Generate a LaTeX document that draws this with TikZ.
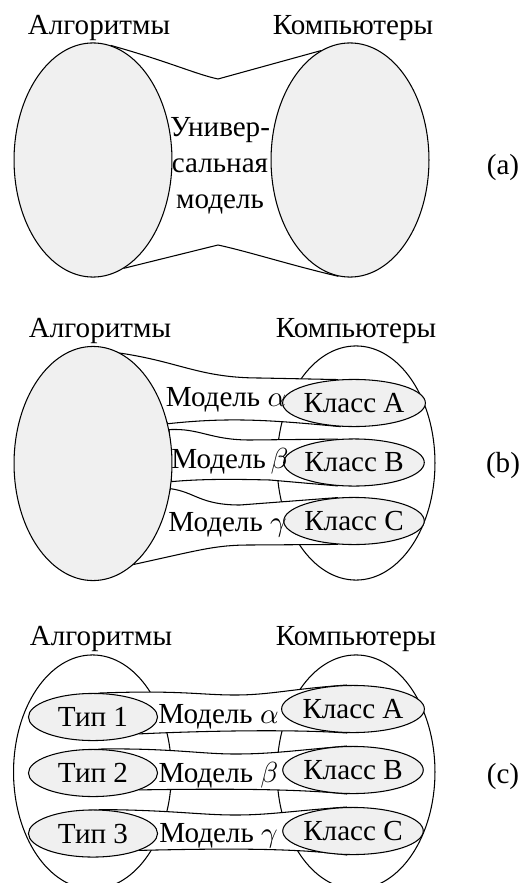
\documentclass[tikz,border=0pt]{standalone}
\usepackage{fontspec}
\setmainfont{Liberation Serif}
\usetikzlibrary{shapes.geometric, backgrounds}
\tikzstyle{bigset} = [ellipse, draw, fill=gray!12, minimum width=59.7pt, minimum height=88.5pt]
\tikzstyle{openset} = [ellipse, draw, fill=white, minimum width=59.7pt, minimum height=88.5pt]
\tikzstyle{subset} = [ellipse, draw, fill=gray!12, minimum width=48.8pt, minimum height=17.8pt, inner sep=0pt]
\tikzstyle{band} = [draw, fill=white]
\tikzstyle{lbl} = [anchor=base, inner sep=0pt]

\begin{document}
\begin{tikzpicture}[x=0.378pt, y=-0.378pt, every node/.style={font=\fontsize{11}{13.6}\selectfont}]
    \useasboundingbox (0,0) rectangle (529,883);
    \clip (0,0) rectangle (529,883);

    % (a)
    \node[bigset] (alga) at (93,160) {};
    \node[bigset] (cmpa) at (350,160) {};
    \node[lbl] (algtxta) at (99,35) {Алгоритмы};
    \node[lbl] (cmptxta) at (353,35) {Компьютеры};
    \node[align=center, inner sep=0pt] (univ) at (220,166) {Универ-\\сальная\\модель};
    \node[lbl] (taga) at (503,175) {(a)};
    \begin{scope}[on background layer]
        \path[band] (alga.81) .. controls (170,62) and (195,74) .. (218,79) -- (cmpa.105)
            -- (cmpa.-96) .. controls (290,265) and (250,252) .. (218,245) -- (alga.-74) -- cycle;
    \end{scope}

    % (b)
    \node[bigset] (algb) at (93,463.5) {};
    \node[subset] (clsAb) at (354,403) {Класс A};
    \node[subset] (clsBb) at (354,462.5) {Класс B};
    \node[subset] (clsCb) at (354,521) {Класс C};
    \node[lbl] (algtxtb) at (100,337) {Алгоритмы};
    \node[lbl] (cmptxtb) at (356,337) {Компьютеры};
    \node[lbl] (mdlAb) at (226,406) {Модель $\alpha$};
    \node[lbl] (mdlBb) at (230,468) {Модель\,$\beta$};
    \node[lbl] (mdlCb) at (227.5,531) {Модель $\gamma$};
    \node[lbl] (tagb) at (503,472) {(b)};
    \begin{scope}[on background layer]
        \node[openset] (cmpb) at (356,463) {};
        \path[band] (algb.76) .. controls (180,362) and (200,378) .. (260,378) -- (clsAb.125)
            -- (clsAb.-120) .. controls (270,420) and (230,417) .. (algb.28) -- cycle;
        \path[band] (algb.24) .. controls (200,428) and (210,440) .. (250,440) -- (clsBb.125)
            -- (clsBb.-125) -- (270,480) .. controls (230,479) and (200,479) .. (algb.-13) -- cycle;
        \path[band] (algb.-18) .. controls (195,492) and (200,505) .. (240,505) -- (clsCb.125)
            -- (clsCb.-125) -- (250,545) .. controls (215,545) and (200,550) .. (algb.-68) -- cycle;
    \end{scope}

    % (c)
    \node[subset] (typ1) at (93,717) {Тип 1};
    \node[subset] (typ2) at (93,773) {Тип 2};
    \node[subset] (typ3) at (93,833.5) {Тип 3};
    \node[subset] (clsAc) at (353,709) {Класс A};
    \node[subset] (clsBc) at (353,770) {Класс B};
    \node[subset] (clsCc) at (353,831) {Класс C};
    \node[lbl] (algtxtc) at (101,645) {Алгоритмы};
    \node[lbl] (cmptxtc) at (356,645) {Компьютеры};
    \node[lbl] (mdlAc) at (218.5,723) {Модель $\alpha$};
    \node[lbl] (mdlBc) at (218.5,782) {Модель $\beta$};
    \node[lbl] (mdlCc) at (218.5,842) {Модель $\gamma$};
    \node[lbl] (tagc) at (503,783) {(c)};
    \begin{scope}[on background layer]
        \node[openset] (algc) at (92.5,772) {};
        \node[openset] (cmpc) at (356,772) {};
        \path[band] (typ1.75) .. controls (180,690) and (200,695) .. (235,695)
            .. controls (270,695) and (290,689) .. (clsAc.105)
            -- (clsAc.-105) .. controls (290,729) and (200,731) .. (typ1.-20) -- cycle;
        \path[band] (typ2.75) .. controls (170,748) and (200,754) .. (235,754)
            .. controls (270,754) and (290,751) .. (clsBc.105)
            -- (clsBc.-105) .. controls (290,788) and (200,789) .. (typ2.-20) -- cycle;
        \path[band] (typ3.75) .. controls (170,810) and (200,815) .. (235,815)
            .. controls (270,815) and (290,811) .. (clsCc.105)
            -- (clsCc.-105) .. controls (290,847) and (200,849) .. (typ3.-20) -- cycle;
    \end{scope}
\end{tikzpicture}
\end{document}
